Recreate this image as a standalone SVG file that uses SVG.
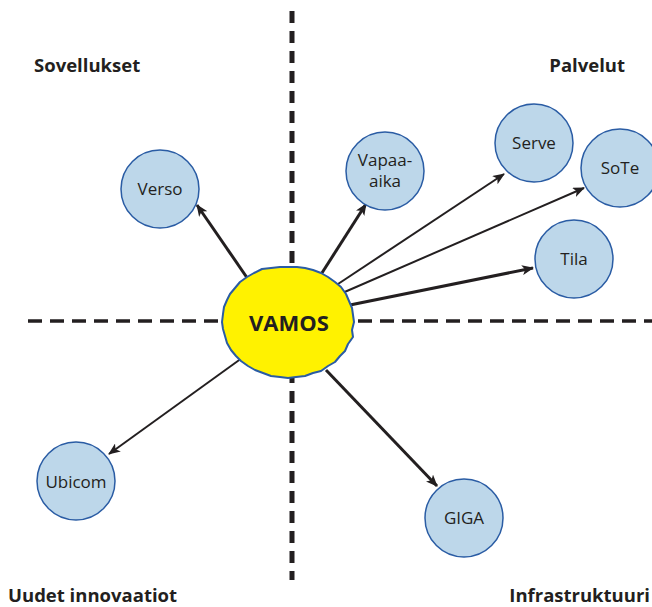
<svg xmlns="http://www.w3.org/2000/svg" width="652" height="607" viewBox="0 0 652 607">
  <defs>
    <marker id="head" viewBox="0 0 12 10" refX="11" refY="5" markerWidth="12" markerHeight="10" markerUnits="userSpaceOnUse" orient="auto">
      <path d="M0,0 L12,5 L0,10 L3,5 Z" fill="#231f20"/>
    </marker>
    <style>
      .axis { fill: none; stroke: #231f20; }
      .edge { fill: none; stroke: #231f20; marker-end: url(#head); }
      .thick { stroke-width: 3; }
      .thin { stroke-width: 2; }
      .node circle { fill: #bdd7ea; stroke: #2a5ca4; stroke-width: 1.5; }
      .node text { font-family: "Open Sans", "Liberation Sans", sans-serif; font-size: 17px; fill: #231f20; text-anchor: middle; }
      .quad { font-family: "Open Sans", "Liberation Sans", sans-serif; font-size: 18.5px; font-weight: bold; fill: #231f20; }
      .hub { font-family: "Open Sans", "Liberation Sans", sans-serif; font-size: 22px; font-weight: bold; fill: #231f20; text-anchor: middle; }
    </style>
  </defs>

  <!-- quadrant axes -->
  <g id="axes">
    <line class="axis" x1="292" y1="11" x2="292" y2="580" stroke-width="5" stroke-dasharray="12 8"/>
    <line class="axis" x1="28" y1="321" x2="652" y2="321" stroke-width="3.5" stroke-dasharray="14 8"/>
  </g>

  <!-- quadrant titles -->
  <g id="labels">
    <text class="quad" x="34" y="72">Sovellukset</text>
    <text class="quad" x="625" y="72" text-anchor="end">Palvelut</text>
    <text class="quad" x="8" y="602">Uudet innovaatiot</text>
    <text class="quad" x="650" y="602" text-anchor="end">Infrastruktuuri</text>
  </g>

  <!-- connectors from the hub -->
  <g id="connectors">
    <line class="edge thick" x1="250" y1="282" x2="197" y2="205"/>
    <line class="edge thick" x1="320" y1="276" x2="366" y2="204"/>
    <line class="edge thin" x1="335" y1="286" x2="504" y2="174"/>
    <line class="edge thin" x1="340" y1="294" x2="584" y2="188"/>
    <line class="edge thick" x1="345" y1="306" x2="533" y2="268"/>
    <line class="edge thin" x1="242" y1="358" x2="109" y2="454"/>
    <line class="edge thick" x1="326" y1="370" x2="437" y2="486"/>
  </g>

  <!-- hub -->
  <g id="vamos">
    <polygon points="354,322 352,330 353,337 348,344 345,351 340,356 335,362 328,366 321,371 313,373 305,376 296,377 288,378 280,377 271,376 263,373 255,370 248,366 241,361 236,356 231,350 227,343 225,336 223,329 222,322 223,314 224,307 227,300 230,294 235,288 240,282 247,277 254,273 262,269 271,268 280,267 288,267 297,267 305,268 313,270 321,273 328,277 335,282 341,287 346,294 349,301 352,308 353,315"
      fill="#fff200" stroke="#2a5ca4" stroke-width="2" stroke-linejoin="round"/>
    <text class="hub" x="289" y="331">VAMOS</text>
  </g>

  <!-- satellite nodes -->
  <g id="verso" class="node">
    <circle cx="160" cy="189" r="39"/>
    <text x="160" y="195">Verso</text>
  </g>
  <g id="vapaa-aika" class="node">
    <circle cx="385" cy="171" r="39"/>
    <text x="385" y="166">Vapaa-</text>
    <text x="385" y="187">aika</text>
  </g>
  <g id="serve" class="node">
    <circle cx="534" cy="143" r="39"/>
    <text x="534" y="149">Serve</text>
  </g>
  <g id="sote" class="node">
    <circle cx="620" cy="168" r="39"/>
    <text x="620" y="174">SoTe</text>
  </g>
  <g id="tila" class="node">
    <circle cx="574" cy="259" r="39"/>
    <text x="574" y="265">Tila</text>
  </g>
  <g id="ubicom" class="node">
    <circle cx="76" cy="481" r="39"/>
    <text x="76" y="488">Ubicom</text>
  </g>
  <g id="giga" class="node">
    <circle cx="464" cy="518" r="39"/>
    <text x="464" y="524">GIGA</text>
  </g>
</svg>
